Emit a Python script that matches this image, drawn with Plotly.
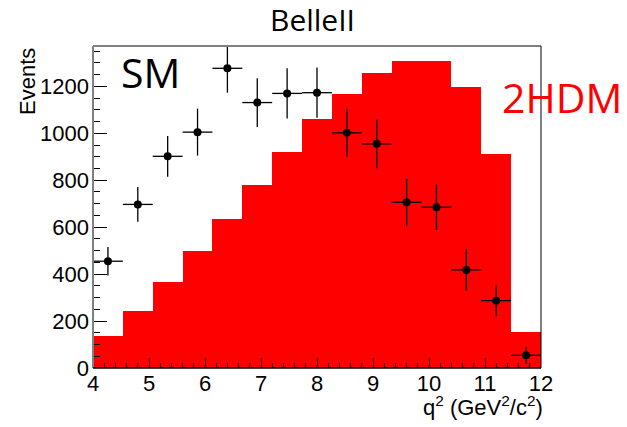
import numpy as np
import plotly.graph_objects as go

# ---- data ----
bin_edges_lo = 4.0
bin_edges_hi = 12.0
n_bins = 15
hdm_counts = [135, 243, 366, 500, 636, 778, 919, 1059, 1166, 1257, 1307, 1307, 1199, 912, 155]
sm_counts = [455, 697, 902, 1005, 1277, 1131, 1170, 1173, 1002, 955, 706, 685, 418, 287, 54]
sm_errors = [61, 74, 87, 100, 104, 104, 107, 107, 102, 105, 100, 97, 88, 67, 37]
y_ticks = [0, 200, 400, 600, 800, 1000, 1200]
x_ticks = [4, 5, 6, 7, 8, 9, 10, 11, 12]

width = (bin_edges_hi - bin_edges_lo) / n_bins
centers = [bin_edges_lo + width * (i + 0.5) for i in range(n_bins)]

L, R, T, B = 93, 86, 46, 59
W, H = 627, 427
pw, ph = W - L - R, H - T - B

def px(x):
    return (x - L) / pw

def py(y):
    return (H - B - y) / ph

fig = go.Figure()
fig.add_trace(go.Bar(x=centers, y=hdm_counts, width=width,
                     marker=dict(color="#FF0000", line=dict(width=0)),
                     showlegend=False))
fig.add_trace(go.Scatter(x=centers, y=sm_counts, mode="markers",
                         marker=dict(color="black", size=8),
                         error_y=dict(type="data", array=sm_errors, color="black", thickness=1.3, width=0),
                         error_x=dict(type="constant", value=width / 2, color="black", thickness=1.3, width=0),
                         showlegend=False, cliponaxis=True))

tickfont = dict(family="Liberation Sans, Arial, sans-serif", size=22, color="black")
fig.update_layout(
    width=W, height=H,
    margin=dict(l=L, r=R, t=T, b=B, pad=0),
    paper_bgcolor="white", plot_bgcolor="white",
    bargap=0,
    xaxis=dict(range=[4, 12], tickvals=x_ticks, ticks="inside", ticklen=10, tickcolor="black",
               tickwidth=1, showgrid=False, zeroline=False, showline=False,
               tickfont=tickfont, layer="above traces",
               minor=dict(dtick=0.2, ticks="inside", ticklen=5, tickcolor="black", showgrid=False)),
    yaxis=dict(range=[0, 1372], tickvals=y_ticks, ticks="inside", ticklen=14, tickcolor="black",
               tickwidth=1, showgrid=False, zeroline=False, showline=False,
               tickfont=tickfont, layer="above traces", ticklabelstandoff=3,
               minor=dict(dtick=50, ticks="inside", ticklen=7, tickcolor="black", showgrid=False)),
    shapes=[
        dict(type="line", xref="paper", yref="paper", x0=0, x1=0, y0=0, y1=1, line=dict(color="#808080", width=2), layer="above"),
        dict(type="line", xref="paper", yref="paper", x0=0, x1=1, y0=1, y1=1, line=dict(color="#808080", width=2), layer="above"),
        dict(type="line", xref="paper", yref="paper", x0=1, x1=1, y0=0, y1=1, line=dict(color="black", width=1), layer="above"),
        dict(type="line", xref="paper", yref="paper", x0=0, x1=1, y0=0, y1=0, line=dict(color="black", width=1.5), layer="above"),
    ],
    annotations=[
        dict(text="BelleII", xref="paper", yref="paper", x=px(312.5), y=py(20), showarrow=False,
             xanchor="center", yanchor="middle", font=dict(family="Open Sans", size=30, color="black")),
        dict(text="SM", xref="paper", yref="paper", x=px(119), y=py(72), showarrow=False,
             xanchor="left", yanchor="middle", font=dict(family="Open Sans", size=41, color="black")),
        dict(text="2HDM", xref="paper", yref="paper", x=px(500), y=py(97), showarrow=False,
             xanchor="left", yanchor="middle", font=dict(family="Open Sans", size=41, color="#FF0000")),
        dict(text="Events", xref="paper", yref="paper", x=px(27), y=py(82), showarrow=False,
             textangle=-90, xanchor="center", yanchor="middle",
             font=dict(family="Liberation Sans, Arial, sans-serif", size=22, color="black")),
        dict(text="q<sup>2</sup> (GeV<sup>2</sup>/c<sup>2</sup>)", xref="paper", yref="paper",
             x=px(545), y=py(406), showarrow=False, xanchor="right", yanchor="middle",
             font=dict(family="Liberation Sans, Arial, sans-serif", size=22, color="black")),
    ],
)

fig.write_html("out.html")
